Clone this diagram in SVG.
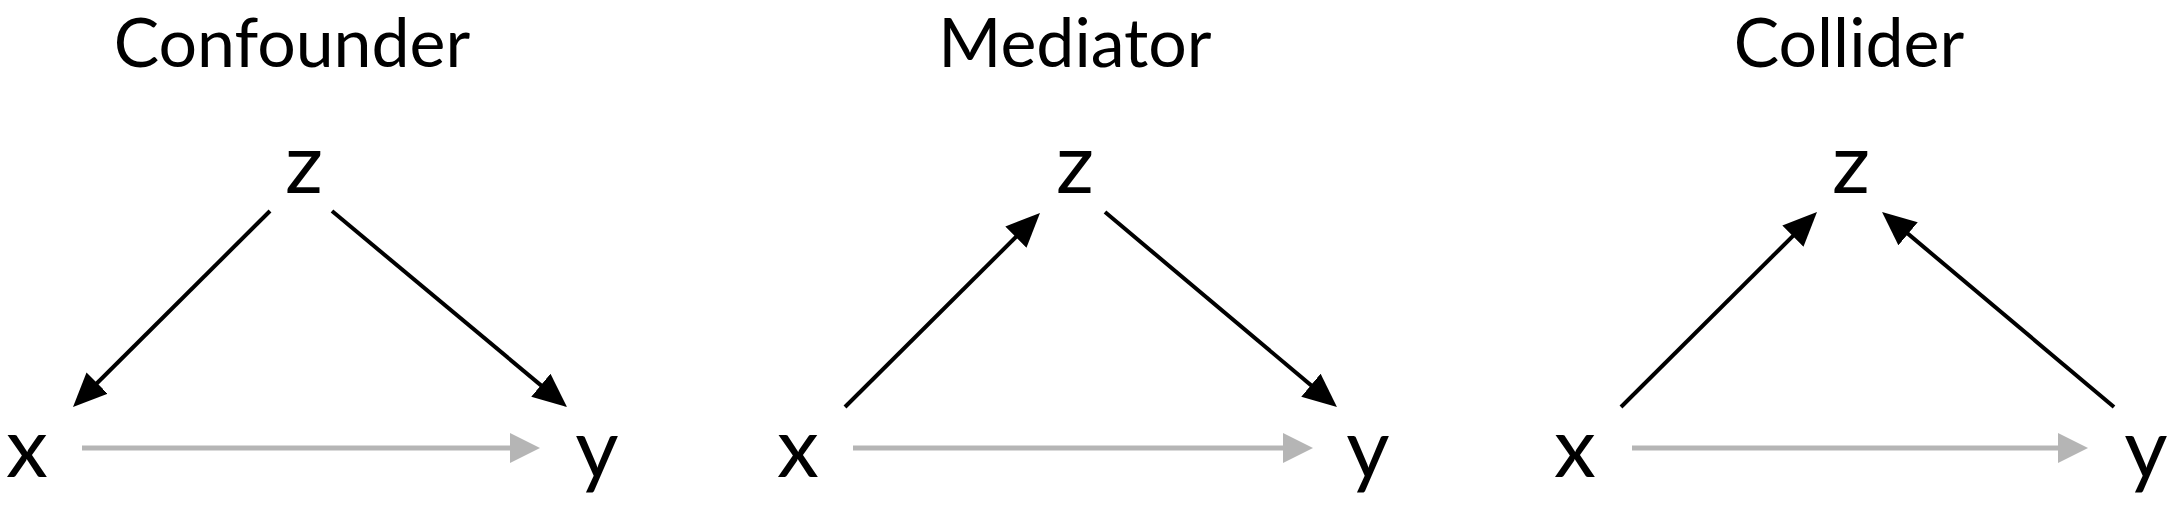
<svg xmlns="http://www.w3.org/2000/svg" width="2175" height="506" viewBox="0 0 2175 506">
  <style>
    .title { font-family: Lato, "Open Sans", sans-serif; font-size: 68px; fill: #000; text-anchor: middle; }
    .var { font-family: Lato, "Open Sans", sans-serif; font-size: 84px; fill: #000; text-anchor: middle; }
    .edge { stroke: #000; stroke-width: 4; fill: none; marker-end: url(#head); }
    .direct { stroke: #b5b5b5; stroke-width: 5; fill: none; marker-end: url(#headGray); }
  </style>
  <defs>
    <marker id="head" markerUnits="userSpaceOnUse" markerWidth="34" markerHeight="30" refX="24" refY="15" orient="auto" viewBox="0 0 34 30">
      <path d="M0,0 L34,15 L0,30 z" fill="#000"/>
    </marker>
    <marker id="headGray" markerUnits="userSpaceOnUse" markerWidth="30" markerHeight="30" refX="20" refY="15" orient="auto" viewBox="0 0 30 30">
      <path d="M0,0 L30,15 L0,30 z" fill="#b5b5b5"/>
    </marker>
  </defs>
  <rect width="2175" height="506" fill="#fff"/>

  <g id="titles">
    <text class="title" x="292" y="67">Confounder</text>
    <text class="title" x="1075" y="67">Mediator</text>
    <text class="title" x="1849" y="67">Collider</text>
  </g>

  <g id="confounder-z"><text class="var" x="304" y="193">z</text></g>
  <g id="confounder-x"><text class="var" x="27" y="477">x</text></g>
  <g id="confounder-y"><text class="var" x="597" y="478">y</text></g>

  <g id="mediator-z"><text class="var" x="1075" y="193">z</text></g>
  <g id="mediator-x"><text class="var" x="798" y="477">x</text></g>
  <g id="mediator-y"><text class="var" x="1368" y="478">y</text></g>

  <g id="collider-z"><text class="var" x="1851" y="193">z</text></g>
  <g id="collider-x"><text class="var" x="1575" y="477">x</text></g>
  <g id="collider-y"><text class="var" x="2146" y="478">y</text></g>

  <g id="connectors">
    <line class="edge" x1="270" y1="211" x2="80.1" y2="400"/>
    <line class="edge" x1="332" y1="211" x2="559.3" y2="400.6"/>
    <line class="direct" x1="82" y1="448" x2="530" y2="448"/>

    <line class="edge" x1="845" y1="407" x2="1032.9" y2="220.1"/>
    <line class="edge" x1="1105" y1="212" x2="1329.3" y2="400.6"/>
    <line class="direct" x1="853" y1="448" x2="1303" y2="448"/>

    <line class="edge" x1="1621" y1="407" x2="1809.9" y2="219.1"/>
    <line class="edge" x1="2114" y1="407" x2="1889.7" y2="218.4"/>
    <line class="direct" x1="1632" y1="448" x2="2078" y2="448"/>
  </g>
</svg>
